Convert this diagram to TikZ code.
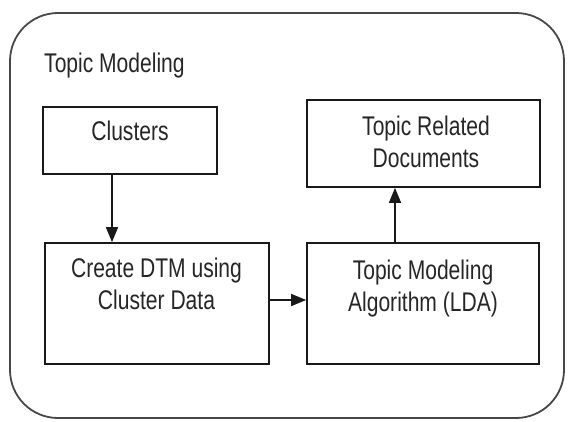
\documentclass[tikz,border=0pt]{standalone}
\usepackage{fontspec}
\setmainfont{Liberation Sans}[FakeStretch=0.78]
\usetikzlibrary{arrows.meta}
\begin{document}
\begin{tikzpicture}[x=1pt, y=-1pt,
  frame/.style={draw=black!72, line width=1.8pt, rounded corners=48pt},
  stepbox/.style={draw=black!90, line width=1.7pt, rectangle, inner sep=0pt},
  lbl/.style={text=black!85, inner sep=0pt, align=center,
    font=\fontsize{27}{32}\selectfont},
  arr/.style={draw=black!90, line width=1.5pt,
    -{Triangle[length=15pt, width=12pt]}}
]
\useasboundingbox (0,0) rectangle (568,421);

% outer container
\draw[frame] (10,13) rectangle (564,418);
\node[lbl, anchor=base west] (title) at (44,72) {Topic Modeling};

% process boxes
\node[stepbox, minimum width=174pt, minimum height=67pt] (clusters) at (130,140.5) {};
\node[stepbox, minimum width=224pt, minimum height=121pt] (dtm) at (157,303.5) {};
\node[stepbox, minimum width=233pt, minimum height=87pt] (related) at (423.5,143.5) {};
\node[stepbox, minimum width=232pt, minimum height=121pt] (lda) at (423,303.5) {};

% box texts
\node[lbl, anchor=base] (tclusters) at (130,140) {Clusters};
\node[lbl, anchor=north] (tdtm) at (156.5,258) {Create DTM using\\Cluster Data};
\node[lbl, anchor=north] (trelated) at (426,116) {Topic Related\\Documents};
\node[lbl, anchor=north] (tlda) at (423,260) {Topic Modeling\\Algorithm (LDA)};

% connectors
\draw[arr] ([xshift=-18pt]clusters.south) -- ([xshift=-18pt]clusters.south |- dtm.north);
\draw[arr] ([yshift=3.5pt]dtm.east) -- ([yshift=3.5pt]dtm.east -| lda.west);
\draw[arr] ([xshift=-28pt]lda.north) -- ([xshift=-28pt]lda.north |- related.south);
\end{tikzpicture}
\end{document}
